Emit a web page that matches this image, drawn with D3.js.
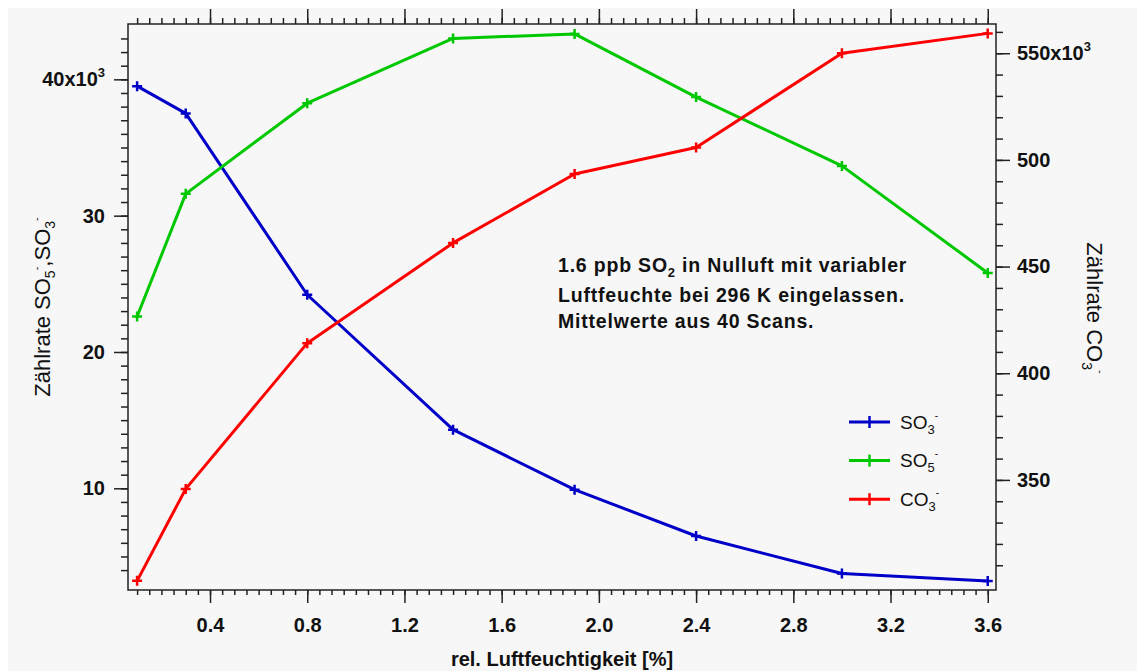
<!DOCTYPE html>
<html>
<head>
<meta charset="utf-8">
<script src="https://cdn.jsdelivr.net/npm/d3@7"></script>
<style>
  body { margin: 0; background: #fff; }
  svg { display: block; }
</style>
</head>
<body>
<div id="chart"></div>
<script>
// relative humidity [%]
const humidity = [0.1, 0.3, 0.8, 1.4, 1.9, 2.4, 3.0, 3.6]
// count rates, left axis in 10^3
const so3 = [39.5, 37.5, 24.2, 14.3, 9.9, 6.5, 3.75, 3.2]
const so5 = [22.6, 31.6, 38.25, 43.0, 43.33, 38.7, 33.65, 25.8]
// count rate, right axis in 10^3
const co3 = [302.7, 345.8, 414.1, 461.1, 493.4, 505.8, 550.0, 559.3]

const xMajor = [0.4, 0.8, 1.2, 1.6, 2.0, 2.4, 2.8, 3.2, 3.6]
const yLeftMajor = [10, 20, 30, 40]
const yRightMajor = [350, 400, 450, 500, 550]

const note = [
  [{ t: '1.6 ppb SO' }, { t: '2', s: 13, dy: 5 }, { t: ' in Nulluft mit variabler', dy: -5 }],
  [{ t: 'Luftfeuchte bei 296 K eingelassen.' }],
  [{ t: 'Mittelwerte aus 40 Scans.' }]
]

const series = [
  { key: 'so3', values: so3, axis: 'left', color: '#0000c8', label: [{ t: 'SO' }, { t: '3', s: 13, dy: 5 }, { t: '-', s: 10, dy: -15 }] },
  { key: 'so5', values: so5, axis: 'left', color: '#00c800', label: [{ t: 'SO' }, { t: '5', s: 13, dy: 5 }, { t: '-', s: 10, dy: -15 }] },
  { key: 'co3', values: co3, axis: 'right', color: '#ff0000', label: [{ t: 'CO' }, { t: '3', s: 13, dy: 5 }, { t: '-', s: 10, dy: -15 }] }
]

const width = 1137
const height = 671
const plot = { left: 128, right: 996, top: 24, bottom: 590 }
const font = "'Liberation Sans', Arial, sans-serif"
const ink = '#222'

const svg = d3.select('#chart').append('svg')
  .attr('width', width)
  .attr('height', height)
  .style('font-family', font)

svg.append('rect').attr('width', width).attr('height', height).attr('fill', '#fff')
svg.append('rect')
  .attr('x', 8).attr('y', 8)
  .attr('width', width - 8).attr('height', height - 8)
  .attr('fill', '#f7f7f7')

const x = d3.scaleLinear().domain([0.0625, 3.634]).range([plot.left, plot.right])
const yLeft = d3.scaleLinear().domain([2.54, 44.06]).range([plot.bottom, plot.top])
const yRight = d3.scaleLinear().domain([298.4, 563.7]).range([plot.bottom, plot.top])

function rich (sel, parts) {
  parts.forEach(p => {
    sel.append('tspan')
      .attr('font-size', p.s || null)
      .attr('dy', p.dy || null)
      .text(p.t)
  })
}

function styleAxis (g) {
  g.select('.domain').remove()
  g.selectAll('.tick line').attr('stroke', ink).attr('stroke-width', 1.5)
  g.attr('font-family', font)
  g.selectAll('.tick text')
    .attr('fill', '#111')
    .attr('font-size', 20)
    .attr('font-weight', 'bold')
}

// minor ticks
const xMinor = d3.range(2, 73).map(i => i * 0.05)
const yLeftMinor = d3.range(4, 44)
const yRightMinor = d3.range(31, 57).map(i => i * 10)

svg.append('g')
  .attr('transform', `translate(0,${plot.bottom})`)
  .call(d3.axisBottom(x).tickValues(xMinor).tickSize(5).tickFormat(''))
  .call(styleAxis)
svg.append('g')
  .attr('transform', `translate(0,${plot.bottom})`)
  .call(d3.axisBottom(x).tickValues(xMajor).tickSize(13).tickPadding(15).tickFormat(d3.format('.1f')))
  .call(styleAxis)

svg.append('g')
  .attr('transform', `translate(0,${plot.top})`)
  .call(d3.axisTop(x).tickValues(xMinor).tickSize(6).tickFormat(''))
  .call(styleAxis)
svg.append('g')
  .attr('transform', `translate(0,${plot.top})`)
  .call(d3.axisTop(x).tickValues(xMajor).tickSize(15).tickFormat(''))
  .call(styleAxis)

svg.append('g')
  .attr('transform', `translate(${plot.left},0)`)
  .call(d3.axisLeft(yLeft).tickValues(yLeftMinor).tickSize(7).tickFormat(''))
  .call(styleAxis)
const leftAxis = svg.append('g')
  .attr('transform', `translate(${plot.left},0)`)
  .call(d3.axisLeft(yLeft).tickValues(yLeftMajor).tickSize(14).tickPadding(9)
    .tickFormat(d => d === 40 ? '' : d))
  .call(styleAxis)
leftAxis.selectAll('.tick text').filter(d => d === 40)
  .call(t => rich(t, [{ t: '40x10' }, { t: '3', s: 13, dy: -9 }]))

svg.append('g')
  .attr('transform', `translate(${plot.right},0)`)
  .call(d3.axisRight(yRight).tickValues(yRightMinor).tickSize(7).tickFormat(''))
  .call(styleAxis)
const rightAxis = svg.append('g')
  .attr('transform', `translate(${plot.right},0)`)
  .call(d3.axisRight(yRight).tickValues(yRightMajor).tickSize(14).tickPadding(7)
    .tickFormat(d => d === 550 ? '' : d))
  .call(styleAxis)
rightAxis.selectAll('.tick text').filter(d => d === 550)
  .call(t => rich(t, [{ t: '550x10' }, { t: '3', s: 13, dy: -9 }]))

// frame
svg.append('rect')
  .attr('x', plot.left).attr('y', plot.top)
  .attr('width', plot.right - plot.left).attr('height', plot.bottom - plot.top)
  .attr('fill', 'none')
  .attr('stroke', ink)
  .attr('stroke-width', 1.5)

// series
const marks = svg.append('g')
series.forEach(s => {
  const y = s.axis === 'left' ? yLeft : yRight
  const pts = humidity.map((h, i) => [x(h), y(s.values[i])])
  marks.append('path')
    .datum(pts)
    .attr('fill', 'none')
    .attr('stroke', s.color)
    .attr('stroke-width', 3)
    .attr('stroke-linejoin', 'round')
    .attr('d', d3.line())
  marks.append('g')
    .selectAll('path')
    .data(pts)
    .join('path')
    .attr('d', d => `M${d[0] - 5},${d[1]}h10M${d[0]},${d[1] - 5}v10`)
    .attr('stroke', s.color)
    .attr('stroke-width', 2.5)
})

// legend
const legend = svg.append('g').attr('transform', 'translate(849,422)')
series.forEach((s, i) => {
  const g = legend.append('g').attr('transform', `translate(0,${i * 38.6})`)
  g.append('line').attr('x1', 0).attr('x2', 41)
    .attr('stroke', s.color).attr('stroke-width', 3)
  g.append('line').attr('x1', 20.5).attr('x2', 20.5).attr('y1', -6).attr('y2', 6)
    .attr('stroke', s.color).attr('stroke-width', 2.5)
  g.append('text')
    .attr('x', 51).attr('y', 6.5)
    .attr('font-size', 19)
    .attr('fill', '#111')
    .call(t => rich(t, s.label))
})

// annotation
const noteY = [272, 301.5, 327.5]
note.forEach((line, i) => {
  svg.append('text')
    .attr('x', 558).attr('y', noteY[i])
    .attr('font-size', 19.5)
    .attr('font-weight', 'bold')
    .attr('letter-spacing', 0.8)
    .attr('fill', '#111')
    .call(t => rich(t, line))
})

// axis titles
svg.append('text')
  .attr('x', (plot.left + plot.right) / 2).attr('y', 666)
  .attr('text-anchor', 'middle')
  .attr('font-size', 20)
  .attr('font-weight', 'bold')
  .attr('fill', '#111')
  .text('rel. Luftfeuchtigkeit [%]')

svg.append('text')
  .attr('transform', 'translate(50,307) rotate(-90)')
  .attr('text-anchor', 'middle')
  .attr('font-size', 22)
  .attr('fill', '#111')
  .call(t => rich(t, [
    { t: 'Zählrate SO' }, { t: '5', s: 14, dy: 5 }, { t: '-', s: 11, dy: -15 },
    { t: ',SO', dy: 10 }, { t: '3', s: 14, dy: 5 }, { t: '-', s: 11, dy: -15 }
  ]))

svg.append('text')
  .attr('transform', 'translate(1087,308) rotate(90)')
  .attr('text-anchor', 'middle')
  .attr('font-size', 22)
  .attr('fill', '#111')
  .call(t => rich(t, [
    { t: 'Zählrate CO' }, { t: '3', s: 14, dy: 5 }, { t: '-', s: 11, dy: -15 }
  ]))
</script>
</body>
</html>
